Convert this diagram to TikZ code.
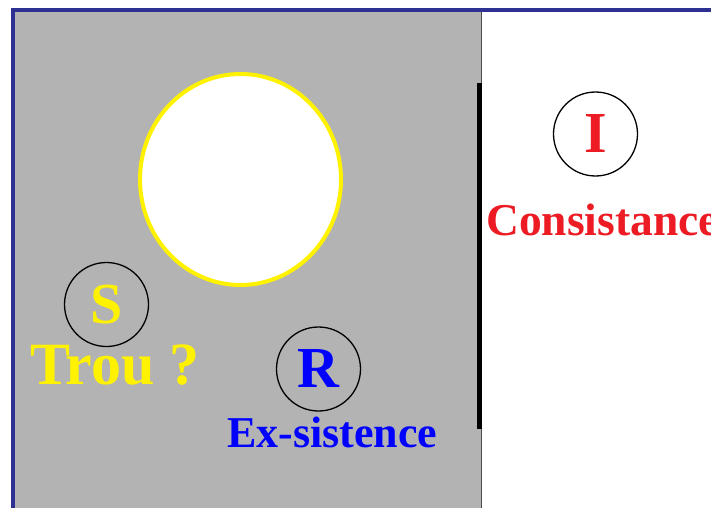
\documentclass[tikz,border=0pt]{standalone}
\usepackage{fontspec}
\setmainfont{Liberation Serif}
\usetikzlibrary{shapes.geometric}
\definecolor{bordblue}{RGB}{46,49,146}
\definecolor{panelgrey}{RGB}{179,179,179}
\definecolor{ryellow}{RGB}{255,242,0}
\definecolor{rred}{RGB}{237,28,36}
\definecolor{rblue}{RGB}{0,0,255}
\tikzset{
  letterring/.style={circle, draw=black, line width=1.3pt, minimum size=84pt, inner sep=0pt, font=\fontsize{58}{58}\selectfont\bfseries},
  biglabel/.style={anchor=base west, inner sep=0pt, font=\fontsize{60}{60}\selectfont\bfseries},
  midlabel/.style={anchor=base west, inner sep=0pt, font=\fontsize{44}{44}\selectfont\bfseries},
  holestyle/.style={ellipse, draw=ryellow, line width=4pt, fill=white, minimum width=201pt, minimum height=211pt, inner sep=0pt}
}
\begin{document}
\begin{tikzpicture}[x=1pt,y=-1pt]
\useasboundingbox (0,0) rectangle (711,508);
\fill[white] (0,0) rectangle (711,508);
\fill[panelgrey] (15,12) rectangle (481,508);
\coordinate (sepTop) at (481.5,12);
\coordinate (sepBot) at (481.5,508);
\draw[line width=1pt, black!70] (sepTop) -- (sepBot);
\fill[bordblue] (11,8) rectangle (711,12);
\fill[bordblue] (11,8) rectangle (15,508);
\node[holestyle] (hole) at (240.5,179.5) {};
\coordinate (barTop) at (479.5,83);
\coordinate (barBot) at (479.5,429);
\draw[line width=4.5pt, black] (barTop) -- (barBot);
\node[letterring, text=ryellow] (S) at (106.5,304.5) {S};
\node[letterring, text=rblue] (R) at (318.5,369) {R};
\node[letterring, text=rred] (I) at (595.5,134) {I};
\node[biglabel, text=ryellow] (trou) at (30,384) {Trou ?};
\node[midlabel, text=rblue] (exs) at (227,447) {Ex-sistence};
\node[midlabel, text=rred, font=\fontsize{45.5}{45.5}\selectfont\bfseries] (cons) at (486,235) {Consistance};
\end{tikzpicture}
\end{document}
